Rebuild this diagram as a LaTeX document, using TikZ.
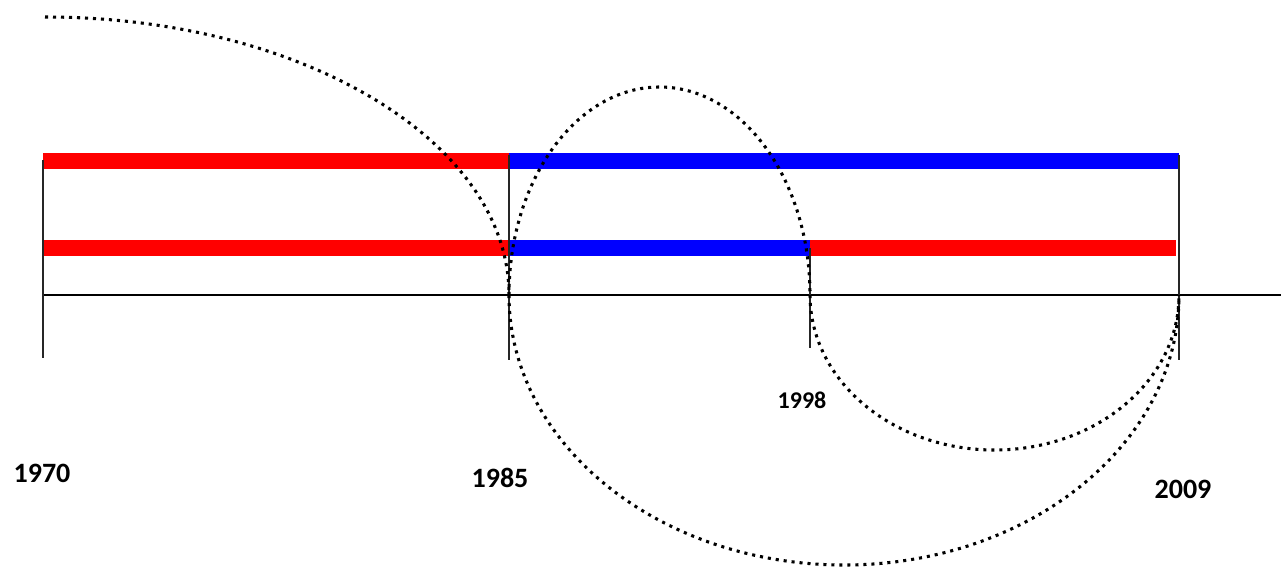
\documentclass[tikz,border=0pt]{standalone}
\usepackage{fontspec}
\setmainfont{Carlito}
\tikzset{
  bar/.style={line width=12pt, line cap=butt},
  redbar/.style={bar, draw={rgb,255:red,255;green,0;blue,0}},
  bluebar/.style={bar, draw={rgb,255:red,0;green,0;blue,255}},
  tick/.style={draw=black!85, line width=1.1pt},
  axisline/.style={draw=black, line width=1.1pt},
  dots/.style={draw=black, line width=2.3pt, dash pattern=on 2.3pt off 3.7pt},
  year/.style={font=\bfseries\fontsize{21}{24}\selectfont, inner sep=0pt},
  smallyear/.style={font=\bfseries\fontsize{18}{21}\selectfont, inner sep=0pt}
}
\begin{document}
\begin{tikzpicture}[x=0.75pt, y=-0.75pt]
\useasboundingbox (0,0) rectangle (1281,567);
% coordinates
\coordinate (a0) at (43,295);
\coordinate (b0) at (509,295);
\coordinate (c0) at (810,295);
\coordinate (d0) at (1179,295);
\coordinate (axend) at (1281,295);
\coordinate (a1) at (43,160);
\coordinate (b1) at (509,155);
\coordinate (c1) at (810,248);
\coordinate (d1) at (1179,155);
\coordinate (a2) at (43,358);
\coordinate (b2) at (509,360);
\coordinate (c2) at (810,348);
\coordinate (d2) at (1179,360);
\coordinate (topstart) at (45,17);
% bars
\draw[redbar] (43,161) -- (509,161);
\draw[bluebar] (509,161) -- (1179,161);
\draw[redbar] (43,248) -- (509,248);
\draw[bluebar] (509,248) -- (810,248);
\draw[redbar] (810,248) -- (1176,248);
% axis and ticks
\draw[axisline] (a0) -- (axend);
\draw[tick] (a1) -- (a2);
\draw[tick] (b1) -- (b2);
\draw[tick] (c1) -- (c2);
\draw[tick] (d1) -- (d2);
% dotted arcs
\draw[dots] (topstart) arc[start angle=270, end angle=360, x radius=464, y radius=278];
\draw[dots] (b0) arc[start angle=180, end angle=0, x radius=335, y radius=270];
\draw[dots] (b0) arc[start angle=180, end angle=360, x radius=150.5, y radius=208];
\draw[dots] (c0) arc[start angle=180, end angle=0, x radius=184.5, y radius=155];
% labels
\node[year] (y1970) at (42,473) {1970};
\node[year] (y1985) at (500,478) {1985};
\node[smallyear] (y1998) at (802,400) {1998};
\node[year] (y2009) at (1183,489) {2009};
\end{tikzpicture}
\end{document}
